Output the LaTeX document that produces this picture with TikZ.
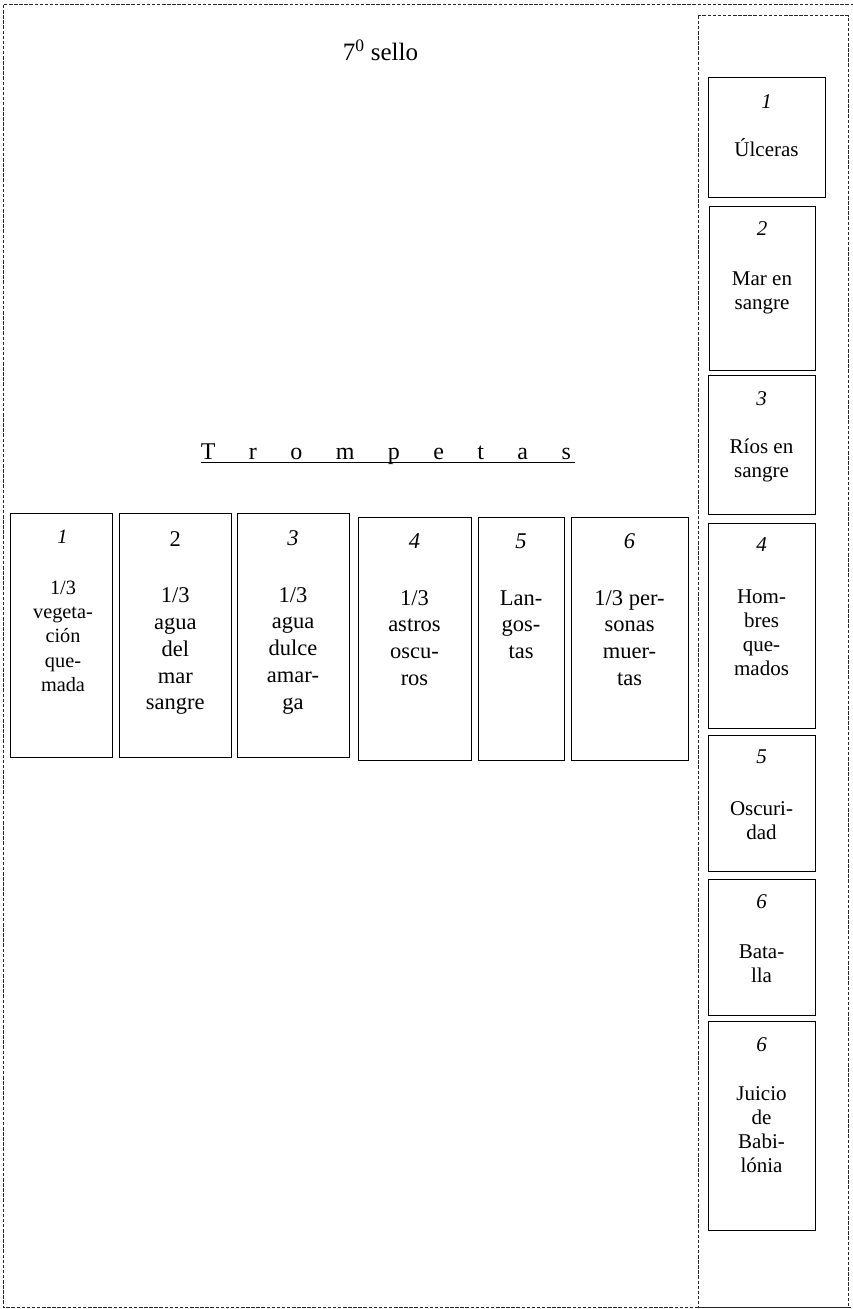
\documentclass[tikz,border=0pt]{standalone}
\usepackage{fontspec}
\setmainfont{Liberation Serif}
\begin{document}
\begin{tikzpicture}[x=1pt,y=-1pt,
  frame/.style={draw=black!85, line width=0.8pt, dash pattern=on 3.5pt off 1.6pt},
  box/.style={draw=black, line width=1pt, inner sep=0pt, outer sep=0pt},
  ltxt/.style={inner sep=0pt, align=center, font=\fontsize{22.5pt}{26.8pt}\selectfont},
  lsmall/.style={inner sep=0pt, align=center, font=\fontsize{20.3pt}{24.3pt}\selectfont},
  rtxt/.style={inner sep=0pt, align=center, font=\fontsize{21pt}{24pt}\selectfont},
  ttl/.style={inner sep=0pt, font=\fontsize{25pt}{30pt}\selectfont},
  trm/.style={inner sep=0pt, font=\fontsize{24pt}{28pt}\selectfont}]
\useasboundingbox (0,0) rectangle (853,1309);
% frames
\draw[frame] (854,4) -- (3.3,4) -- (3.3,1307.5) -- (854,1307.5);
\draw[frame] (698.3,15.7) rectangle (848.5,1307.5);
% title
\node[ttl, anchor=base west] (sello) at (342.7,60.7) {7\textsuperscript{0} sello};
% Trompetas
\node[trm, anchor=base west] (trom) at (200.7,459) {\makebox[370pt][s]{T r o m p e t a s}};
\draw[line width=1.2pt] ([yshift=-3.5pt]trom.base west) -- ++(374.3,0);
% left boxes
\node[box, minimum width=102pt, minimum height=244pt, anchor=north west] (L1) at (10.7,513) {};
\node[box, minimum width=112.5pt, minimum height=244pt, anchor=north west] (L2) at (119,513) {};
\node[box, minimum width=112pt, minimum height=244pt, anchor=north west] (L3) at (237,513) {};
\node[box, minimum width=113pt, minimum height=243pt, anchor=north west] (L4) at (358,517) {};
\node[box, minimum width=86pt, minimum height=243pt, anchor=north west] (L5) at (478,517) {};
\node[box, minimum width=117pt, minimum height=243pt, anchor=north west] (L6) at (571,517) {};
% (multi-line nodes: base anchor = baseline of the last line)
\node[lsmall, anchor=base] (L1n) at (62.5,543.3) {\textit{1}};
\node[lsmall, anchor=base] (L1t) at (63,691.5) {1/3\\vegeta-\\ción\\que-\\mada};
\node[ltxt, anchor=base] (L2n) at (175.3,546.7) {2};
\node[ltxt, anchor=base] (L2t) at (175.3,709.9) {1/3\\agua\\del\\mar\\sangre};
\node[ltxt, anchor=base] (L3n) at (293,545) {\textit{3}};
\node[ltxt, anchor=base] (L3t) at (293,709.2) {1/3\\agua\\dulce\\amar-\\ga};
\node[ltxt, anchor=base] (L4n) at (414.5,548) {\textit{4}};
\node[ltxt, anchor=base] (L4t) at (414.5,685.4) {1/3\\astros\\oscu-\\ros};
\node[ltxt, anchor=base] (L5n) at (521,548) {\textit{5}};
\node[ltxt, anchor=base] (L5t) at (521,658.6) {Lan-\\gos-\\tas};
\node[ltxt, anchor=base] (L6n) at (629.5,548) {\textit{6}};
\node[ltxt, anchor=base] (L6t) at (629.5,685.4) {1/3 per-\\sonas\\muer-\\tas};
% right boxes
\node[box, minimum width=117pt, minimum height=120pt, anchor=north west] (R1) at (708,77) {};
\node[box, minimum width=106pt, minimum height=164pt, anchor=north west] (R2) at (709,206) {};
\node[box, minimum width=107pt, minimum height=139pt, anchor=north west] (R3) at (708,375) {};
\node[box, minimum width=107pt, minimum height=205pt, anchor=north west] (R4) at (708,523) {};
\node[box, minimum width=107pt, minimum height=136pt, anchor=north west] (R5) at (708,735) {};
\node[box, minimum width=107pt, minimum height=136pt, anchor=north west] (R6) at (708,879) {};
\node[box, minimum width=107pt, minimum height=209pt, anchor=north west] (R7) at (708,1021) {};
\node[rtxt, anchor=base] (R1n) at (766.5,108) {\textit{1}};
\node[rtxt, anchor=base] (R1t) at (766.5,156.7) {Úlceras};
\node[rtxt, anchor=base] (R2n) at (762,235.7) {\textit{2}};
\node[rtxt, anchor=base] (R2t) at (762,309) {Mar en\\sangre};
\node[rtxt, anchor=base] (R3n) at (761.5,405) {\textit{3}};
\node[rtxt, anchor=base] (R3t) at (761.5,477.3) {Ríos en\\sangre};
\node[rtxt, anchor=base] (R4n) at (761.5,551.7) {\textit{4}};
\node[rtxt, anchor=base] (R4t) at (761.5,675.3) {Hom-\\bres\\que-\\mados};
\node[rtxt, anchor=base] (R5n) at (761.5,763.3) {\textit{5}};
\node[rtxt, anchor=base] (R5t) at (761.5,839) {Oscuri-\\dad};
\node[rtxt, anchor=base] (R6n) at (761.5,908.3) {\textit{6}};
\node[rtxt, anchor=base] (R6t) at (761.5,982.3) {Bata-\\lla};
\node[rtxt, anchor=base] (R7n) at (761.5,1051.7) {\textit{6}};
\node[rtxt, anchor=base] (R7t) at (761.5,1172) {Juicio\\de\\Babi-\\lónia};
\end{tikzpicture}
\end{document}
